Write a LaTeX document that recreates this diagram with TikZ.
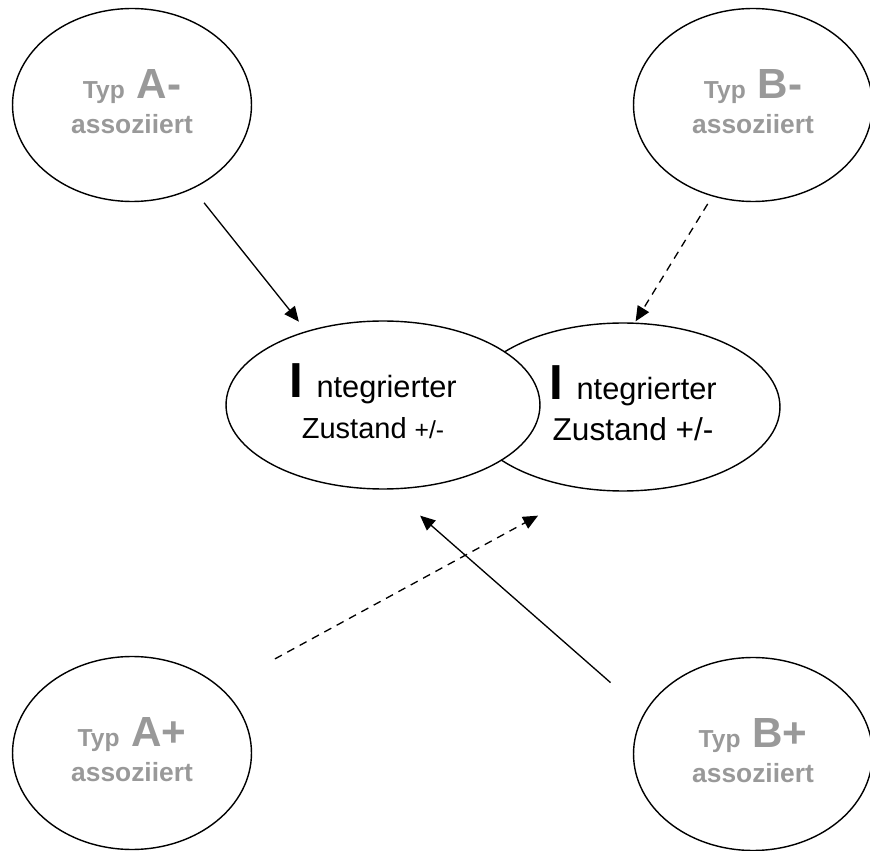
\documentclass[tikz,border=0pt]{standalone}
\usepackage{fontspec}
\setmainfont{Liberation Sans}
\usetikzlibrary{shapes.geometric, arrows.meta}
\definecolor{typgrau}{RGB}{153,153,153}

\begin{document}
\begin{tikzpicture}[
    x=0.02cm, y=-0.02cm,
    typ/.style={draw, ellipse, line width=0.8pt, minimum width=4.78cm, minimum height=3.86cm, inner sep=0pt},
    zustand/.style={draw, ellipse, fill=white, line width=0.8pt, minimum width=6.28cm, minimum height=3.36cm, inner sep=0pt},
    typtext/.style={text=typgrau, font=\bfseries\fontsize{15}{19.8}\selectfont, align=center, yshift=1.8pt},
    zustext/.style={font=\fontsize{17.5}{23.2}\selectfont, align=center, yshift=2pt},
    pfeil/.style={-{Triangle[length=8.5pt,width=7.5pt]}, line width=0.75pt},
    pfeilgestr/.style={pfeil, dash pattern=on 4.5pt off 3.5pt}
]
  \useasboundingbox (0,0) rectangle (870,851);

  % Ellipsen
  \node[typ, label={[typtext]center:{{\fontsize{14}{19.8}\selectfont Typ}{\fontsize{24}{19.8}\selectfont\ A-}\\assoziiert}}] (ta) at (132,105) {};
  \node[typ, label={[typtext]center:{{\fontsize{14}{19.8}\selectfont Typ}{\fontsize{24}{19.8}\selectfont\ B-}\\assoziiert}}] (tb) at (753,105) {};
  \node[typ, label={[typtext]center:{{\fontsize{14}{19.8}\selectfont Typ}{\fontsize{24}{19.8}\selectfont\ A+}\\assoziiert}}] (ba) at (132,753) {};
  \node[typ, label={[typtext]center:{{\fontsize{14}{19.8}\selectfont Typ}{\fontsize{24}{19.8}\selectfont\ B+}\\assoziiert}}] (bb) at (753,754) {};

  \node[zustand, label={[zustext, xshift=5.7pt]center:{{\fontsize{28}{23.2}\selectfont\bfseries I }ntegrierter\\{\fontsize{18}{23.2}\selectfont Zustand +/-}}}] (zr) at (623,407) {};
  \node[zustand, label={[zustext, xshift=-5.7pt]center:{{\fontsize{28}{23.2}\selectfont\bfseries I }ntegrierter\\{\fontsize{16.5}{23.2}\selectfont Zustand {\fontsize{14}{23.2}\selectfont +/-}}}}] (zl) at (383,405) {};

  % Pfeile
  \draw[pfeil, shorten <=10.2pt, shorten >=6.8pt] (ta.-54) -- (zl.136);
  \draw[pfeilgestr, shorten <=5pt, shorten >=0.8pt] (tb.-114) -- (zr.82);
  \draw[pfeilgestr, shorten <=34.7pt, shorten >=31.3pt] (ba.36) -- (zr.-114);
  \draw[pfeil, shorten <=25.7pt, shorten >=22.5pt] (bb.159) -- (zl.-85);
\end{tikzpicture}
\end{document}
